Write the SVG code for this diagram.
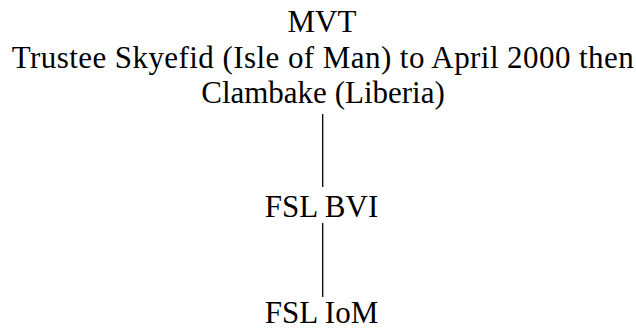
<svg xmlns="http://www.w3.org/2000/svg" width="636" height="331" viewBox="0 0 636 331">
  <style>
    .lbl { font-family: "Liberation Serif", "Times New Roman", serif; font-size: 31px; fill: #000; text-anchor: middle; }
    .edge { stroke: #000; stroke-width: 1.3; fill: none; }
  </style>
  <rect width="636" height="331" fill="#fff"/>
  <g id="connectors">
    <line class="edge" x1="322.7" y1="114" x2="322.7" y2="187"/>
    <line class="edge" x1="322.7" y1="223" x2="322.7" y2="297"/>
  </g>
  <g id="mvt">
    <text class="lbl" x="322" y="31.5">MVT</text>
    <text class="lbl" x="322.7" y="67.5" textLength="622" lengthAdjust="spacing">Trustee Skyefid (Isle of Man) to April 2000 then</text>
    <text class="lbl" x="323" y="102.5">Clambake (Liberia)</text>
  </g>
  <g id="fsl-bvi">
    <text class="lbl" x="321.5" y="216.5">FSL BVI</text>
  </g>
  <g id="fsl-iom">
    <text class="lbl" x="321.5" y="323">FSL IoM</text>
  </g>
</svg>
